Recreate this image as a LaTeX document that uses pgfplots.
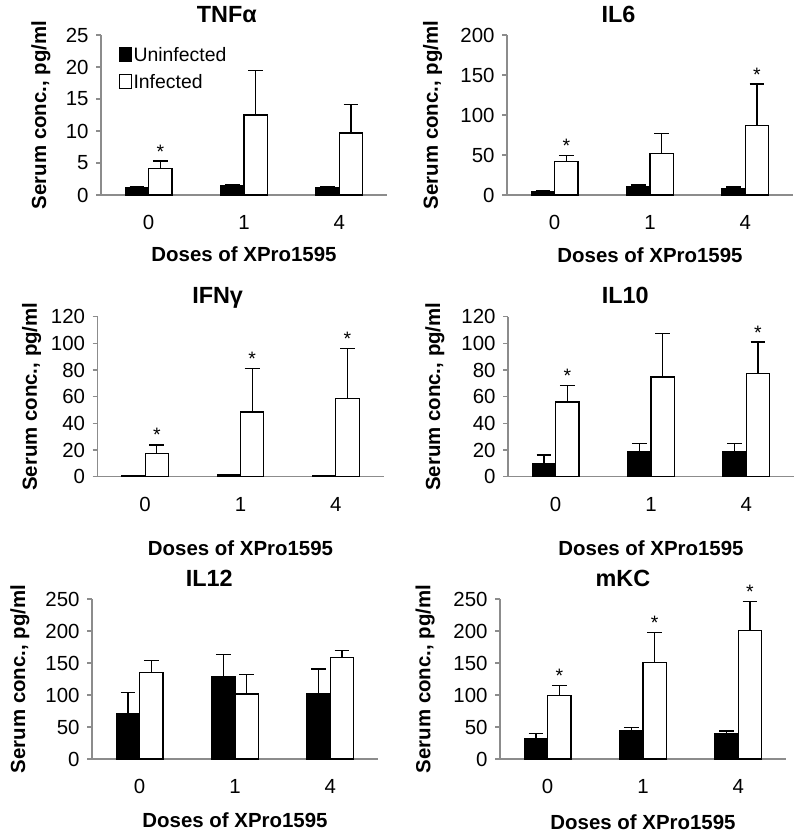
\documentclass[border=0pt]{standalone}
\usepackage{fontspec}
\setmainfont{Liberation Sans}
\usepackage{pgfplots}
\pgfplotsset{compat=1.18}
\usepackage{pgfplotstable}
\definecolor{axgray}{RGB}{140,140,140}

\pgfplotstableread{
x u ue i ie
0 1.1 0.2 4.2 1.1
1 1.4 0.2 12.5 7.0
2 1.1 0.2 9.7 4.4
}\tnf
\pgfplotstableread{
x u ue i ie
0 4 2 41.4 8.3
1 10 2.4 51.8 24.8
2 8 2 87 51.7
}\ilsix
\pgfplotstableread{
x u ue i ie
0 0.5 0 17.5 6.3
1 1.2 0 48.5 32.8
2 0.5 0 58.8 37.5
}\ifng
\pgfplotstableread{
x u ue i ie
0 10 6.3 56 12.5
1 18.5 6.3 74.8 32.7
2 18.5 6.3 77.3 23.7
}\ilten
\pgfplotstableread{
x u ue i ie
0 70.3 33.3 135.5 18.1
1 128 35.6 101.6 30.7
2 102 38.6 158.9 10.3
}\iltwelve
\pgfplotstableread{
x u ue i ie
0 31.8 7.8 98.9 15.7
1 44.8 4.7 151 47
2 40 3.8 201 45
}\mkc

\tikzset{astk/.style={anchor=base, yshift=3pt, font=\fontsize{19.5}{22}\selectfont, inner sep=0pt}}
\pgfplotsset{
  panel/.style={
    scale only axis, width=286bp, height=160bp,
    xmin=-0.5, xmax=2.5, ymin=0,
    xtick={0,1,2}, xticklabels={0,1,4},
    axis lines*=left,
    axis line style={draw=axgray, line width=1.3pt},
    xtick style={draw=none},
    ytick style={draw=axgray, line width=1.3pt},
    tick align=outside, major tick length=5pt,
    /pgf/number format/assume math mode=true,
    tick label style={font=\fontsize{20.5}{23}\selectfont},
    xticklabel style={yshift=-12pt},
    yticklabel style={xshift=-4pt},
    label style={font=\bfseries\fontsize{20.5}{23}\selectfont},
    title style={font=\bfseries\fontsize{23.5}{26}\selectfont, anchor=base, yshift=7pt},
    xlabel={Doses of XPro1595},
    ylabel={Serum conc., pg/ml},
    xlabel style={at={(axis description cs:0.5,0)}, anchor=base},
    ylabel style={anchor=center},
    ybar=0pt, bar width=0.245,
    clip=false,
    error bars/y dir=plus, error bars/y explicit,
    error bars/error bar style={black, line width=1.3pt},
    error bars/error mark options={rotate=90, mark size=7.5pt, line width=1.3pt, black},
  },
  unin/.style={draw=black, fill=black, line width=1.2pt},
  infe/.style={draw=black, fill=white, line width=1.2pt},
}

\begin{document}
\begin{tikzpicture}[x=1bp,y=1bp]
\useasboundingbox (0,0) rectangle (800,835);

% TNF alpha
\begin{axis}[panel, at={(101bp,640bp)}, ymax=25, ytick distance=5,
  title={TNFα}, title style={at={(axis description cs:0.44,1)}},
  ylabel style={at={(axis description cs:-0.21,0.5)}},
  xlabel style={yshift=-67pt},
  legend style={at={(axis description cs:0.052,0.944)}, anchor=north west, draw=none, fill=none,
    font=\fontsize{19.5}{22}\selectfont, row sep=7pt,
    nodes={inner sep=1.5pt, text height=14pt, text depth=3pt}},
  legend cell align=left,
  legend image code/.code={\draw[#1, line width=1pt] (0pt,-5.5pt) rectangle (12pt,8.5pt);},
]
\addplot[unin] table[x=x, y=u, y error=ue] {\tnf};
\addplot[infe] table[x=x, y=i, y error=ie] {\tnf};
\legend{Uninfected, Infected}
\node[astk] at (axis cs:0.1225,5.3) {*};
\end{axis}

% IL6
\begin{axis}[panel, at={(507bp,640bp)}, ymax=200, ytick distance=50,
  title={IL6}, title style={at={(axis description cs:0.39,1)}},
  ylabel style={at={(axis description cs:-0.26,0.5)}},
  xlabel style={yshift=-68pt},
]
\addplot[unin] table[x=x, y=u, y error=ue] {\ilsix};
\addplot[infe] table[x=x, y=i, y error=ie] {\ilsix};
\node[astk] at (axis cs:0.1225,49.7) {*};
\node[astk] at (axis cs:2.1225,138.7) {*};
\end{axis}

% IFN gamma
\begin{axis}[panel, at={(97.5bp,358.3bp)}, ymax=120, ytick distance=20,
  title={IFNγ}, title style={at={(axis description cs:0.42,1)}},
  ylabel style={at={(axis description cs:-0.23,0.5)}},
  xlabel style={yshift=-79pt},
]
\addplot[unin] table[x=x, y=u, y error=ue] {\ifng};
\addplot[infe] table[x=x, y=i, y error=ie] {\ifng};
\node[astk] at (axis cs:0.1225,23.8) {*};
\node[astk] at (axis cs:1.1225,81.3) {*};
\node[astk] at (axis cs:2.1225,96.3) {*};
\end{axis}

% IL10
\begin{axis}[panel, at={(508bp,358.3bp)}, ymax=120, ytick distance=20,
  title={IL10}, title style={at={(axis description cs:0.41,1)}},
  ylabel style={at={(axis description cs:-0.256,0.5)}},
  xlabel style={yshift=-79pt},
]
\addplot[unin] table[x=x, y=u, y error=ue] {\ilten};
\addplot[infe] table[x=x, y=i, y error=ie] {\ilten};
\node[astk] at (axis cs:0.1225,68.5) {*};
\node[astk] at (axis cs:2.1225,101) {*};
\end{axis}

% IL12
\begin{axis}[panel, at={(92bp,76bp)}, ymax=250, ytick distance=50,
  title={IL12}, title style={at={(axis description cs:0.41,1)}},
  ylabel style={at={(axis description cs:-0.252,0.5)}},
  xlabel style={yshift=-69pt},
]
\addplot[unin] table[x=x, y=u, y error=ue] {\iltwelve};
\addplot[infe] table[x=x, y=i, y error=ie] {\iltwelve};
\end{axis}

% mKC
\begin{axis}[panel, at={(500bp,76bp)}, ymax=250, ytick distance=50,
  title={mKC}, title style={at={(axis description cs:0.43,1)}},
  ylabel style={at={(axis description cs:-0.262,0.5)}},
  xlabel style={yshift=-71pt},
]
\addplot[unin] table[x=x, y=u, y error=ue] {\mkc};
\addplot[infe] table[x=x, y=i, y error=ie] {\mkc};
\node[astk] at (axis cs:0.1225,114.6) {*};
\node[astk] at (axis cs:1.1225,198) {*};
\node[astk] at (axis cs:2.1225,246) {*};
\end{axis}
\end{tikzpicture}
\end{document}
